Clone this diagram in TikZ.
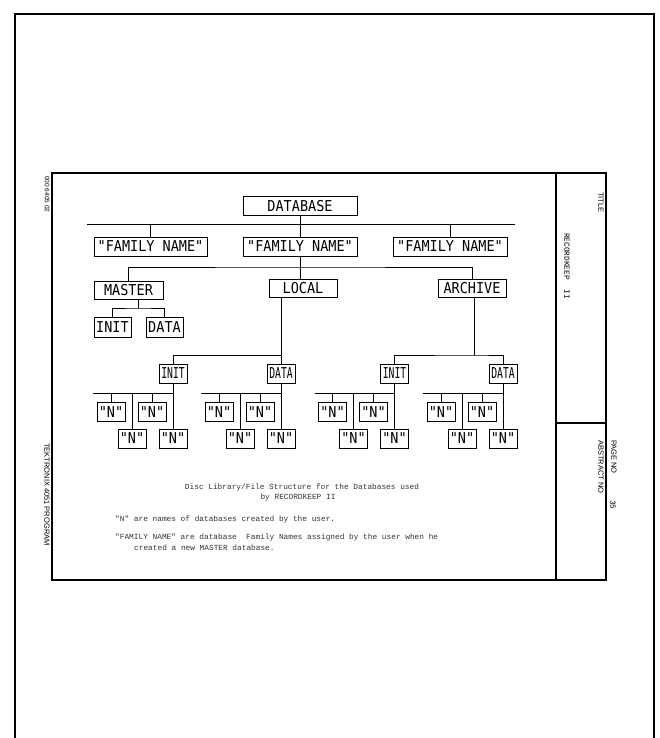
\documentclass[tikz,border=0pt]{standalone}
\usepackage{fontspec}
\setmainfont{Liberation Sans}
\newfontfamily\plotfont[FakeStretch=0.9]{DejaVu Sans Mono}
\newfontfamily\plotnarrow[FakeStretch=0.65]{DejaVu Sans Mono}
\newfontfamily\typefont{Liberation Mono}
\usetikzlibrary{positioning, calc}

\begin{document}
\begin{tikzpicture}[x=1pt, y=-1pt,
    box/.style={draw, line width=0.9pt, inner sep=0pt, minimum height=19pt, font={\plotfont\fontsize{15}{15}\selectfont}},
    nbox/.style={box, minimum width=28pt},
    subbox/.style={box, minimum width=28pt, font={\plotnarrow\fontsize{15}{15}\selectfont}},
    link/.style={line width=0.8pt},
    frame/.style={line width=1.8pt},
    sheetlabel/.style={inner sep=0pt, rotate=-90, anchor=west, font={\fontsize{7.5}{9}\selectfont}},
    caption/.style={inner sep=0pt, text=black!80, font={\typefont\fontsize{7.8}{9}\selectfont}}
]
    \useasboundingbox (0,0) rectangle (659,738);

    % Sheet and frame
    \draw[line width=2.5pt] (15,738) -- (15,14) -- (654,14) -- (654,738);
    \draw[frame] (52,173) rectangle (606,580);
    \draw[frame] (556,173) -- (556,580);
    \draw[frame] (556,423) -- (606,423);

    % Sheet labels
    \node[sheetlabel, font={\fontsize{6.5}{8}\selectfont}] (code) at (47,176) {000 6405 02};
    \node[sheetlabel] (prog) at (47,443) {TEKTRONIX 4051 PROGRAM};
    \node[sheetlabel] (title) at (601,192) {TITLE};
    \node[sheetlabel, font={\typefont\fontsize{7.8}{9}\selectfont}] (titletext) at (567,233) {RECORDKEEP\ \ II};
    \node[sheetlabel] (pageno) at (614,440) {PAGE NO};
    \node[sheetlabel] (abstract) at (601,440) {ABSTRACT NO};
    \node[sheetlabel, font={\typefont\fontsize{7.8}{9}\selectfont}] (pagenum) at (613,500) {35};

    % Top level
    \node[box, minimum width=114pt] (db) at (300,206) {DATABASE};
    \node[box, minimum width=113pt] (fam1) at (150.5,246.5) {"FAMILY NAME"};
    \node[box, minimum width=114pt] (fam2) at (300,246.5) {"FAMILY NAME"};
    \node[box, minimum width=114pt] (fam3) at (450,246.5) {"FAMILY NAME"};

    \coordinate (topL) at (87,224);
    \coordinate (topR) at (515,224);
    \draw[link] (topL) -- (topR);
    \draw[link] (db) -- (fam2);
    \draw[link] (fam1.north) -- (fam1.north |- topL);
    \draw[link] (fam3.north) -- (fam3.north |- topL);

    % Master, local and archive
    \node[box, minimum width=69pt, minimum height=18pt] (master) at (128.5,290) {MASTER};
    \node[box, minimum width=68pt, minimum height=18pt] (local) at (303,288) {LOCAL};
    \node[box, minimum width=68pt, minimum height=18pt] (archive) at (472,288) {ARCHIVE};

    \coordinate (famJ) at (300,267);
    \draw[link] (master.north) |- (famJ) -| (archive.north);
    \draw[link] (fam2) -- (fam2 |- local.north);

    % Master files
    \node[box, minimum width=37pt, minimum height=20pt] (minit) at (112.5,327) {INIT};
    \node[box, minimum width=37pt, minimum height=20pt] (mdata) at (164.5,327) {DATA};
    \coordinate (mJ) at (138,308);
    \draw[link] (master.south -| mJ) -- (mJ);
    \draw[link] (minit.north) |- (mJ) -| (mdata.north);

    % Local and archive files
    \node[subbox] (linit) at (173,373.5) {INIT};
    \node[subbox] (ldata) at (281,373.5) {DATA};
    \node[subbox] (ainit) at (394.5,373.5) {INIT};
    \node[subbox] (adata) at (503,373.5) {DATA};

    \coordinate (lJ) at (281,355);
    \draw[link] (local.south -| ldata) -- (ldata);
    \draw[link] (linit.north) |- (lJ);
    \coordinate (aJ) at (474,355);
    \draw[link] (archive.south -| aJ) -- (aJ);
    \draw[link] (ainit.north) |- (aJ) -| (adata.north);

    % Database names
    \foreach \p in {linit, ldata, ainit, adata} {
        \node[nbox] (\p-n1) at ($(\p)+(-62,38.5)$) {"N"};
        \node[nbox] (\p-n2) at ($(\p)+(-41,65)$) {"N"};
        \node[nbox] (\p-n3) at ($(\p)+(-21,38.5)$) {"N"};
        \node[nbox] (\p-n4) at ($(\p)+(0,65)$) {"N"};
        \coordinate (\p-bus) at ($(\p)+(-80,19.5)$);
        \draw[link] (\p-bus) -- (\p-bus -| \p);
        \draw[link] (\p) -- (\p-n4);
        \foreach \n in {n1,n2,n3}
            \draw[link] (\p-\n.north) -- (\p-\n.north |- \p-bus);
    }

    % Caption and notes
    \node[caption] (cap1) at (302,487) {Disc Library/File Structure for the Databases used};
    \node[caption] (cap2) at (298,497) {by RECORDKEEP II};
    \node[caption, anchor=west] (note1) at (115,519) {"N" are names of databases created by the user.};
    \node[caption, anchor=west] (note2) at (115,537) {"FAMILY NAME" are database\ \ Family Names assigned by the user when he};
    \node[caption, anchor=west] (note3) at (134,548) {created a new MASTER database.};

\end{tikzpicture}
\end{document}
